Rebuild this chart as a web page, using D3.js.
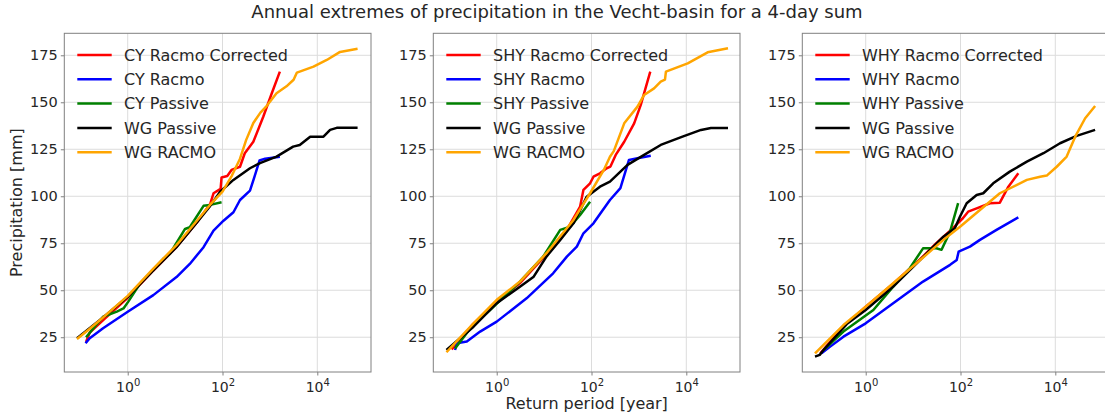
<!DOCTYPE html>
<html>
<head>
<meta charset="utf-8">
<script src="https://cdn.jsdelivr.net/npm/d3@7"></script>
<style>
  body { margin: 0; background: #fff; }
  svg { display: block; font-family: "DejaVu Sans", sans-serif; }
</style>
</head>
<body>
<svg id="chart" width="1105" height="420"></svg>
<script>
// Return periods [year] and 4-day precipitation sums [mm] per series.

// --- CY panel ---
const cyCorrectedT = [0.132, 0.158, 0.316, 1, 3.47, 10.7, 28.8, 55.0, 64.6, 79.4, 91.2, 95.5, 126, 155, 234, 295, 447, 724, 1096, 1622];
const cyCorrectedP = [22.5, 27.5, 34.5, 46.0, 60.5, 73.0, 86.0, 96.0, 101.6, 103.0, 104.0, 110.0, 110.8, 114.0, 115.7, 122.9, 129.0, 142.3, 154.8, 166.3];
const cyRacmoT = [0.129, 0.158, 0.302, 1, 3.47, 10.7, 20.4, 39.8, 64.6, 105, 170, 234, 380, 468, 603, 794, 1622];
const cyRacmoP = [21.8, 24.5, 29.8, 38.6, 47.4, 57.0, 64.0, 72.9, 81.7, 87.0, 91.5, 98.0, 103.0, 110.0, 119.0, 120.0, 121.0];
const cyPassiveT = [0.132, 0.302, 0.589, 0.813, 1.02, 1.82, 5.62, 7.76, 16.2, 20.4, 39.8, 55.0, 95.5];
const cyPassiveP = [25.0, 35.9, 38.6, 40.3, 43.8, 53.5, 66.7, 69.4, 82.6, 83.5, 94.9, 95.4, 96.8];
const cyWgPassiveT = [0.0851, 0.302, 1, 3.47, 10.7, 28.8, 55.0, 89.1, 170, 380, 617, 1380, 3090, 4266, 7079, 13490, 18621, 25704, 70795];
const cyWgPassiveP = [24.5, 35.5, 46.5, 60.6, 72.9, 86.1, 94.9, 102.4, 108.7, 114.9, 117.6, 121.1, 126.4, 127.3, 131.7, 131.7, 135.3, 136.4, 136.4];
const cyWgRacmoT = [0.0851, 0.158, 0.302, 1, 3.47, 10.7, 28.8, 55.0, 100, 158, 234, 316, 447, 631, 851, 1380, 2239, 3162, 3715, 8318, 15849, 30200, 70795];
const cyWgRacmoP = [24.1, 29.5, 35.5, 47.0, 61.5, 74.0, 87.0, 95.5, 102.5, 111.0, 120.0, 130.0, 139.0, 144.5, 148.0, 154.8, 158.5, 162.0, 165.8, 169.0, 172.5, 176.8, 178.5];

// --- SHY panel ---
const shyCorrectedT = [0.112, 0.316, 1, 3.16, 11.2, 31.6, 57.5, 67.6, 93.3, 110, 151, 209, 251, 324, 490, 794, 1096, 1738];
const shyCorrectedP = [18.5, 32.0, 44.0, 54.0, 69.0, 83.0, 94.5, 103.4, 106.9, 110.4, 112.2, 114.9, 115.8, 122.0, 129.0, 138.8, 148.6, 166.3];
const shyRacmoT = [0.132, 0.145, 0.234, 0.447, 1, 4.27, 15.5, 30.2, 49.0, 67.6, 110, 155, 245, 407, 617, 933, 1778];
const shyRacmoP = [18.2, 21.8, 22.7, 28.0, 33.3, 45.7, 59.0, 67.9, 73.2, 80.3, 85.6, 91.0, 98.0, 104.3, 119.3, 120.2, 121.5];
const shyPassiveT = [0.132, 0.316, 0.724, 3.09, 9.55, 21.9, 35.5, 57.5, 93.3];
const shyPassiveP = [19.0, 31.5, 39.5, 54.6, 67.9, 82.1, 83.8, 90.0, 97.1];
const shyWgPassiveT = [0.0871, 0.324, 1, 3.09, 6.03, 11.2, 21.9, 41.7, 56.2, 79.4, 151, 245, 575, 1288, 2884, 8318, 20417, 33113, 75858];
const shyWgPassiveP = [18.2, 30.6, 43.1, 51.9, 57.2, 67.9, 76.8, 85.6, 92.0, 99.8, 105.1, 107.8, 116.7, 122.0, 127.3, 131.7, 135.3, 136.3, 136.3];
const shyWgRacmoT = [0.0871, 0.141, 0.324, 1, 3.09, 11.2, 41.7, 93.3, 182, 245, 295, 490, 933, 1288, 2089, 2884, 3548, 3715, 10715, 28184, 75858];
const shyWgRacmoP = [17.0, 22.7, 32.4, 44.9, 54.6, 69.7, 87.4, 101.6, 114.0, 121.0, 124.0, 138.8, 147.7, 153.9, 157.4, 161.0, 162.0, 166.3, 170.7, 176.6, 178.7];

// --- WHY panel ---
const whyCorrectedT = [0.110, 0.316, 1, 3.80, 14.1, 30.9, 69.2, 112, 145, 219, 417, 676, 1023, 1660];
const whyCorrectedP = [16.5, 30.0, 41.3, 53.5, 66.5, 75.0, 83.0, 88.3, 91.8, 93.6, 96.3, 96.6, 105.1, 112.2];
const whyRacmoT = [0.117, 0.178, 0.339, 1, 3.80, 16.2, 60.3, 83.2, 91.2, 158, 257, 575, 1660];
const whyRacmoP = [16.5, 20.0, 25.3, 32.4, 43.1, 54.6, 63.5, 66.1, 70.5, 73.2, 76.8, 82.1, 88.8];
const whyPassiveT = [0.129, 0.339, 1.45, 3.80, 8.51, 16.2, 30.9, 39.8, 60.3, 89.1];
const whyPassiveP = [18.2, 28.0, 39.5, 51.9, 61.7, 72.3, 72.3, 71.5, 81.2, 96.3];
const whyWgPassiveT = [0.0851, 0.107, 0.129, 0.398, 1, 3.80, 14.1, 43.6, 75.9, 97.7, 135, 219, 302, 490, 1096, 2512, 5623, 12589, 28184, 69183];
const whyWgPassiveP = [14.7, 15.6, 18.2, 32.0, 39.5, 51.9, 66.1, 78.5, 83.0, 89.2, 96.3, 100.7, 101.6, 106.9, 113.1, 118.4, 122.9, 128.2, 132.1, 135.3];
const whyWgRacmoT = [0.0851, 0.339, 1, 3.80, 14.1, 43.6, 97.7, 257, 676, 2512, 4786, 6607, 10715, 17378, 26303, 42658, 69183];
const whyWgRacmoP = [16.4, 31.5, 41.3, 53.7, 66.1, 76.8, 83.8, 92.7, 101.6, 108.7, 110.4, 111.0, 115.7, 121.1, 131.7, 141.5, 148.0];

// Axis ticks
const yTicks = [25, 50, 75, 100, 125, 150, 175];
const xTickExponents = [0, 2, 4];

const title = "Annual extremes of precipitation in the Vecht-basin for a 4-day sum";
const xLabel = "Return period [year]";
const yLabel = "Precipitation [mm]";

const seriesColors = ["red", "blue", "green", "black", "orange"];

const panels = [
  { names: ["CY Racmo Corrected", "CY Racmo", "CY Passive", "WG Passive", "WG RACMO"],
    t: [cyCorrectedT, cyRacmoT, cyPassiveT, cyWgPassiveT, cyWgRacmoT],
    p: [cyCorrectedP, cyRacmoP, cyPassiveP, cyWgPassiveP, cyWgRacmoP] },
  { names: ["SHY Racmo Corrected", "SHY Racmo", "SHY Passive", "WG Passive", "WG RACMO"],
    t: [shyCorrectedT, shyRacmoT, shyPassiveT, shyWgPassiveT, shyWgRacmoT],
    p: [shyCorrectedP, shyRacmoP, shyPassiveP, shyWgPassiveP, shyWgRacmoP] },
  { names: ["WHY Racmo Corrected", "WHY Racmo", "WHY Passive", "WG Passive", "WG RACMO"],
    t: [whyCorrectedT, whyRacmoT, whyPassiveT, whyWgPassiveT, whyWgRacmoT],
    p: [whyCorrectedP, whyRacmoP, whyPassiveP, whyWgPassiveP, whyWgRacmoP] }
];

// Layout
const svg = d3.select("#chart");
svg.append("rect").attr("width", 1105).attr("height", 420).attr("fill", "#fff");

const plotW = 306.7, plotH = 338.7, plotTop = 33.3;
const plotLefts = [64.3, 433.3, 802.3];
const spineColor = "#808080", gridColor = "#dcdcdc", textColor = "#262626";

const x = d3.scaleLog().domain([Math.pow(10, -1.338), Math.pow(10, 5.133)]).range([0, plotW]);
const y = d3.scaleLinear().domain([6.5, 186.7]).range([plotH, 0]);

const line = d3.line()
  .x(d => x(d[0]))
  .y(d => y(d[1]));

panels.forEach((panel, pi) => {
  const g = svg.append("g").attr("transform", `translate(${plotLefts[pi]},${plotTop})`);

  const clipId = "clip" + pi;
  g.append("clipPath").attr("id", clipId)
    .append("rect").attr("width", plotW).attr("height", plotH);

  // grid
  const grid = g.append("g");
  grid.selectAll("line.h").data(yTicks).join("line")
    .attr("x1", 0).attr("x2", plotW)
    .attr("y1", d => y(d)).attr("y2", d => y(d))
    .attr("stroke", gridColor).attr("stroke-width", 1);
  grid.selectAll("line.v").data(xTickExponents).join("line")
    .attr("y1", 0).attr("y2", plotH)
    .attr("x1", d => x(Math.pow(10, d))).attr("x2", d => x(Math.pow(10, d)))
    .attr("stroke", gridColor).attr("stroke-width", 1);

  // series
  const lines = g.append("g").attr("clip-path", `url(#${clipId})`);
  panel.names.forEach((name, si) => {
    const pts = panel.t[si].map((t, k) => [t, panel.p[si][k]]);
    lines.append("path")
      .attr("d", line(pts))
      .attr("fill", "none")
      .attr("stroke", seriesColors[si])
      .attr("stroke-width", 2.5)
      .attr("stroke-linejoin", "round");
  });

  // legend (no frame)
  const leg = g.append("g");
  panel.names.forEach((name, si) => {
    const cy = 21.7 + si * 24.3;
    leg.append("line")
      .attr("x1", 13).attr("x2", 47.4).attr("y1", cy).attr("y2", cy)
      .attr("stroke", seriesColors[si]).attr("stroke-width", 2.5);
    leg.append("text")
      .attr("x", 59.7).attr("y", cy + 5.8)
      .attr("font-size", 16).attr("fill", textColor)
      .text(name);
  });

  // y axis
  const yAxis = g.append("g")
    .call(d3.axisLeft(y).tickValues(yTicks).tickSize(3.5).tickPadding(3).tickSizeOuter(0));
  yAxis.select(".domain").remove();
  yAxis.selectAll(".tick line").attr("stroke", spineColor);
  yAxis.selectAll(".tick text").attr("font-size", 14.5).attr("fill", textColor)
    .attr("font-family", "DejaVu Sans");

  // x axis with power-of-ten labels
  const xAxis = g.append("g").attr("transform", `translate(0,${plotH})`)
    .call(d3.axisBottom(x).tickValues(xTickExponents.map(e => Math.pow(10, e)))
      .tickSize(3.5).tickSizeOuter(0).tickFormat(() => ""));
  xAxis.select(".domain").remove();
  xAxis.selectAll(".tick line").attr("stroke", spineColor);
  xAxis.selectAll(".tick text").each(function(d, i) {
    const t = d3.select(this)
      .attr("y", 19.7).attr("dy", null)
      .attr("font-size", 14).attr("fill", textColor)
      .attr("font-family", "DejaVu Sans");
    t.text(null);
    t.append("tspan").text("10");
    t.append("tspan").attr("dy", -6).attr("font-size", 10).text(String(xTickExponents[i]));
  });

  // spines
  g.append("rect")
    .attr("width", plotW).attr("height", plotH)
    .attr("fill", "none").attr("stroke", spineColor).attr("stroke-width", 1);
});

// figure texts
svg.append("text")
  .attr("x", 557).attr("y", 17.5)
  .attr("text-anchor", "middle").attr("font-size", 18).attr("fill", textColor)
  .text(title);

svg.append("text")
  .attr("x", plotLefts[1] + plotW / 2).attr("y", 408.5)
  .attr("text-anchor", "middle").attr("font-size", 16).attr("fill", textColor)
  .text(xLabel);

svg.append("text")
  .attr("transform", `translate(22,${plotTop + plotH / 2}) rotate(-90)`)
  .attr("text-anchor", "middle").attr("font-size", 16).attr("fill", textColor)
  .text(yLabel);
</script>
</body>
</html>
